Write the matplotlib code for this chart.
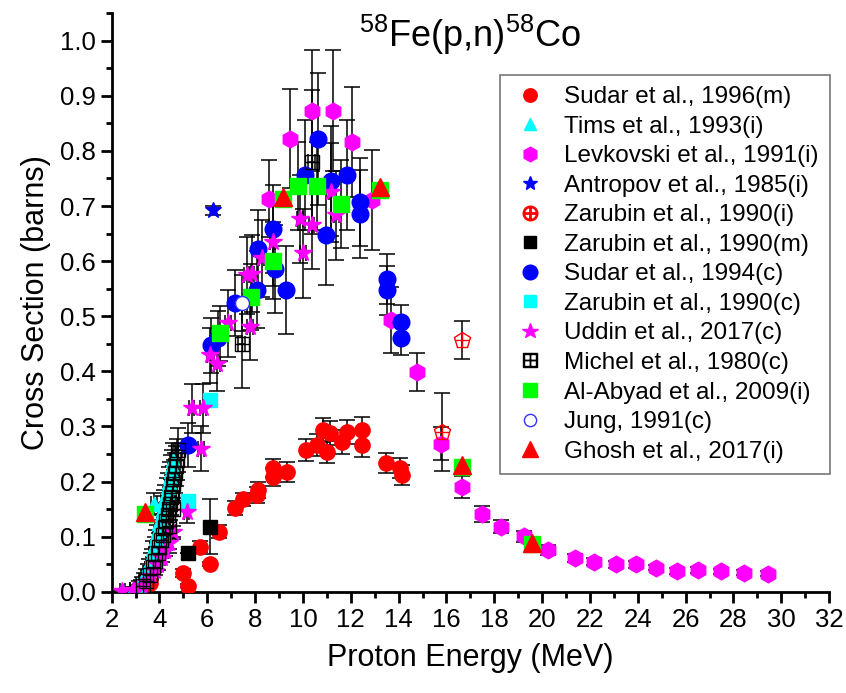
# -*- coding: utf-8 -*-
"""
58Fe(p,n)58Co cross section - compilation of experimental data
"""

import numpy as np
import matplotlib.pyplot as plt
from matplotlib.ticker import MultipleLocator

plt.rcParams['font.family'] = ['Liberation Sans', 'DejaVu Sans']
plt.rcParams['mathtext.fontset'] = 'custom'
plt.rcParams['mathtext.rm'] = 'Liberation Sans'

# ---------------- data (energy in MeV, cross section in barns) ----------------
# Tims et al., 1993(i)
tims_E = [2.9, 3.05, 3.15, 3.25, 3.35, 3.42, 3.5, 3.58, 3.63, 3.7, 3.74, 3.8, 3.85, 3.9,
          3.95, 4.0, 4.05, 4.1, 4.15, 4.2, 4.25, 4.3, 4.34, 4.38, 4.43, 4.48, 4.53, 4.58, 3.78]
tims_s = [0.004, 0.008, 0.013, 0.02, 0.026, 0.034, 0.041, 0.05, 0.058, 0.066, 0.078, 0.085, 0.097,
          0.105, 0.112, 0.124, 0.133, 0.142, 0.151, 0.163, 0.17, 0.182, 0.19, 0.2, 0.208, 0.22,
          0.228, 0.24, 0.16]
tims_err = [0.004, 0.005, 0.006, 0.006, 0.008, 0.008, 0.01, 0.01, 0.012, 0.012, 0.014, 0.014,
            0.016, 0.016, 0.018, 0.018, 0.02, 0.02, 0.022, 0.022, 0.024, 0.024, 0.026, 0.026,
            0.028, 0.028, 0.03, 0.03, 0.02]

# Michel et al., 1980(c)
michel_E = [3.3, 3.45, 3.6, 3.72, 3.82, 3.92, 4.0, 4.08, 4.15, 4.22, 4.28, 4.34, 4.4, 4.44,
            4.5, 4.54, 4.58, 4.62, 4.66, 4.7, 4.74, 4.78, 4.4, 4.55, 7.43, 10.36]
michel_s = [0.01, 0.02, 0.03, 0.045, 0.056, 0.07, 0.082, 0.094, 0.104, 0.118, 0.128, 0.14,
            0.15, 0.16, 0.172, 0.18, 0.195, 0.205, 0.215, 0.228, 0.24, 0.258, 0.12, 0.15,
            0.45, 0.78]
michel_err = [0.006, 0.008, 0.01, 0.012, 0.014, 0.016, 0.018, 0.02, 0.022, 0.024, 0.026, 0.028,
              0.03, 0.03, 0.032, 0.032, 0.034, 0.034, 0.036, 0.036, 0.038, 0.04, 0.05, 0.05,
              0.08, 0.13]

# Sudar et al., 1996(m)
sudar96_E = [3.6, 4.98, 5.19, 5.69, 6.11, 6.48, 7.15, 7.49, 8.07, 8.11, 8.74, 8.74, 9.33,
             10.12, 10.58, 10.83, 11.0, 11.12, 11.62, 11.83, 12.46, 12.46, 13.49, 14.05, 14.12]
sudar96_s = [0.016, 0.034, 0.011, 0.082, 0.051, 0.109, 0.152, 0.168, 0.176, 0.185, 0.225, 0.208,
             0.217, 0.257, 0.266, 0.293, 0.254, 0.288, 0.272, 0.29, 0.293, 0.266, 0.233, 0.224,
             0.212]
sudar96_err = [0.003, 0.008, 0.003, 0.01, 0.004, 0.012, 0.012, 0.012, 0.014, 0.014, 0.016,
               0.016, 0.018, 0.02, 0.02, 0.022, 0.02, 0.022, 0.022, 0.022, 0.024, 0.022, 0.018,
               0.018, 0.018]

# Levkovski et al., 1991(i)
levk_E = [8.59, 9.45, 10.36, 11.26, 12.07, 12.87, 13.7, 14.77, 15.79, 16.67, 17.5, 18.3, 19.24,
          20.24, 21.39, 22.17, 23.07, 23.94, 24.75, 25.65, 26.51, 27.49, 28.45, 29.45]
levk_s = [0.713, 0.822, 0.873, 0.873, 0.816, 0.711, 0.493, 0.399, 0.269, 0.191, 0.141, 0.118,
          0.101, 0.076, 0.062, 0.055, 0.05, 0.05, 0.044, 0.038, 0.04, 0.037, 0.035, 0.033]
levk_err = [0.07, 0.09, 0.11, 0.11, 0.1, 0.09, 0.06, 0.035, 0.03, 0.02, 0.015, 0.012, 0.01,
            0.009, 0.007, 0.006, 0.006, 0.006, 0.005, 0.005, 0.005, 0.005, 0.004, 0.004]

# Antropov et al., 1985(i)
antr_E = [6.22]
antr_s = [0.692]
antr_err = [0.008]

# Zarubin et al., 1990(i)
zari_E = [15.8, 16.63]
zari_s = [0.29, 0.457]
zari_err = [0.07, 0.035]

# Zarubin et al., 1990(m)
zarm_E = [5.2, 6.11]
zarm_s = [0.07, 0.118]
zarm_err = [0.0, 0.05]

# Sudar et al., 1994(c)
sudar94_E = [5.2, 6.14, 6.44, 7.15, 8.06, 8.13, 8.75, 8.82, 9.31, 10.08, 10.63, 10.98, 11.16,
             11.85, 12.38, 12.38, 13.52, 13.52, 14.08, 14.08]
sudar94_s = [0.266, 0.447, 0.46, 0.524, 0.548, 0.622, 0.659, 0.586, 0.548, 0.757, 0.822, 0.647,
             0.746, 0.757, 0.707, 0.686, 0.568, 0.547, 0.49, 0.46]
sudar94_err = [0.04, 0.05, 0.05, 0.06, 0.07, 0.07, 0.08, 0.08, 0.08, 0.1, 0.12, 0.09, 0.1, 0.1,
               0.08, 0.08, 0.045, 0.045, 0.03, 0.03]

# Zarubin et al., 1990(c)
zarc_E = [5.2, 6.11]
zarc_s = [0.164, 0.348]
zarc_err = [0.0, 0.0]

# Uddin et al., 2017(c)
uddin_E = [2.45, 2.9, 3.25, 3.45, 3.65, 3.8, 3.95, 4.1, 4.25, 4.4, 4.55, 5.13, 5.34, 5.73, 5.83,
           6.11, 6.39, 6.87, 7.64, 7.78, 7.85, 8.27, 8.73, 9.87, 10.01, 10.36, 11.19, 11.4]
uddin_s = [0.001, 0.004, 0.01, 0.018, 0.028, 0.038, 0.048, 0.062, 0.074, 0.088, 0.108, 0.145,
           0.333, 0.26, 0.333, 0.429, 0.414, 0.487, 0.574, 0.481, 0.577, 0.605, 0.635, 0.677,
           0.614, 0.665, 0.725, 0.683]
uddin_err = [0.003, 0.004, 0.005, 0.006, 0.006, 0.007, 0.008, 0.008, 0.009, 0.01, 0.012, 0.02,
             0.045, 0.04, 0.045, 0.05, 0.05, 0.06, 0.07, 0.06, 0.07, 0.07, 0.08, 0.08, 0.08,
             0.08, 0.09, 0.08]

# Al-Abyad et al., 2009(i)
abyad_E = [3.39, 6.55, 7.81, 8.73, 9.17, 9.8, 10.59, 11.61, 13.24, 16.63, 19.59]
abyad_s = [0.142, 0.469, 0.535, 0.601, 0.712, 0.736, 0.736, 0.703, 0.73, 0.226, 0.086]
abyad_err = [0.0, 0.05, 0.06, 0.07, 0.0, 0.08, 0.08, 0.08, 0.0, 0.0, 0.0]

# Jung, 1991(c)
jung_E = [7.43]
jung_s = [0.524]
jung_err = [0.05]

# Ghosh et al., 2017(i)
ghosh_E = [3.39, 9.17, 13.24, 16.63, 19.59]
ghosh_s = [0.145, 0.716, 0.734, 0.23, 0.089]
ghosh_err = [0.0, 0.0, 0.0, 0.0, 0.0]

# ---------------- plot ----------------
fig = plt.figure(figsize=(8.46, 6.93), dpi=100)
ax = fig.add_axes([0.132, 0.146, 0.848, 0.835])

def plot_set(E, s, err, label, xerr=None, **kw):
    ax.errorbar(E, s, yerr=err, xerr=xerr, fmt='none', ecolor='black', elinewidth=1.1,
                capsize=5.5, capthick=1.1, zorder=2)
    ax.plot(E, s, linestyle='none', label=label, zorder=3, **kw)

plot_set(sudar96_E, sudar96_s, sudar96_err, 'Sudar et al., 1996(m)',
         marker='o', color='#ff0000', markersize=11)
plot_set(tims_E, tims_s, tims_err, 'Tims et al., 1993(i)', xerr=0.12,
         marker='^', color='#00ffff', markersize=10)
plot_set(levk_E, levk_s, levk_err, 'Levkovski et al., 1991(i)',
         marker='h', color='#ff00ff', markersize=12)
plot_set(antr_E, antr_s, antr_err, 'Antropov et al., 1985(i)',
         marker='*', color='#0000ff', markersize=12)
plot_set(zari_E, zari_s, zari_err, 'Zarubin et al., 1990(i)',
         marker='p', markerfacecolor='none', markeredgecolor='#ff0000', markersize=12)
ax.plot(zari_E, zari_s, linestyle='none', marker='+', color='#ff0000', markersize=10, zorder=4)
plot_set(zarm_E, zarm_s, zarm_err, 'Zarubin et al., 1990(m)',
         marker='s', color='black', markersize=10)
plot_set(sudar94_E, sudar94_s, sudar94_err, 'Sudar et al., 1994(c)',
         marker='o', color='#0000ff', markersize=12)
plot_set(zarc_E, zarc_s, zarc_err, 'Zarubin et al., 1990(c)',
         marker='s', color='#00ffff', markersize=10)
plot_set(uddin_E, uddin_s, uddin_err, 'Uddin et al., 2017(c)', xerr=0.12,
         marker='*', color='#ff00ff', markersize=13)
plot_set(michel_E, michel_s, michel_err, 'Michel et al., 1980(c)', xerr=0.15,
         marker='s', markerfacecolor='none', markeredgecolor='black', markersize=10)
ax.plot(michel_E, michel_s, linestyle='none', marker='+', color='black', markersize=10, zorder=3)
plot_set(abyad_E, abyad_s, abyad_err, 'Al-Abyad et al., 2009(i)',
         marker='s', color='#00ff00', markersize=11)
plot_set(jung_E, jung_s, jung_err, 'Jung, 1991(c)',
         marker='o', markerfacecolor='white', markeredgecolor='#3333ff', markersize=10)
plot_set(ghosh_E, ghosh_s, ghosh_err, 'Ghosh et al., 2017(i)',
         marker='^', color='#ff0000', markersize=13)

ax.set_xlim(2, 32)
ax.set_ylim(0, 1.05)
ax.xaxis.set_major_locator(MultipleLocator(2))
ax.xaxis.set_minor_locator(MultipleLocator(1))
ax.yaxis.set_major_locator(MultipleLocator(0.1))
ax.yaxis.set_minor_locator(MultipleLocator(0.05))
ax.yaxis.set_major_formatter(plt.FormatStrFormatter('%.1f'))
ax.spines['top'].set_visible(False)
ax.spines['right'].set_visible(False)
for sp in ['left', 'bottom']:
    ax.spines[sp].set_linewidth(2)
ax.tick_params(which='major', direction='out', length=8, width=2, labelsize=18.5)
ax.tick_params(which='minor', direction='out', length=4, width=2)

ax.set_xlabel('Proton Energy (MeV)', fontsize=22, labelpad=8)
ax.set_ylabel('Cross Section (barns)', fontsize=22, labelpad=6)
ax.text(0.50, 0.9625, r'$\mathregular{^{58}}$Fe(p,n)$\mathregular{^{58}}$Co',
        transform=ax.transAxes, fontsize=26, ha='center', va='center')

# legend with the special symbols
handles, labels = ax.get_legend_handles_labels()
zi = labels.index('Zarubin et al., 1990(i)')
handles[zi] = plt.Line2D([], [], linestyle='none', marker='$\u2295$', color='#ff0000',
                         markersize=12)
mi = labels.index('Michel et al., 1980(c)')
handles[mi] = plt.Line2D([], [], linestyle='none', marker='$\u229e$', color='black',
                         markersize=12)
leg = ax.legend(handles, labels, loc='upper left', bbox_to_anchor=(0.541, 0.893),
                borderaxespad=0, fontsize=17.5, frameon=True, fancybox=False,
                edgecolor='#555555', labelspacing=0.31, handlelength=1.6,
                handletextpad=0.6, borderpad=0.45, markerscale=0.88)
leg.get_frame().set_linewidth(1.2)

fig.savefig('out.png', dpi=100)
